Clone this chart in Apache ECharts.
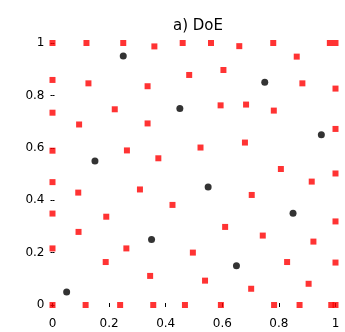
<!DOCTYPE html>
<html>
<head>
<meta charset="utf-8">
<script src="https://cdn.jsdelivr.net/npm/echarts@6/dist/echarts.min.js"></script>
<style>
  html, body { margin: 0; padding: 0; background: #fff; }
  #chart { width: 345px; height: 332px; }
</style>
</head>
<body>
<div id="chart"></div>
<script>
// Design-of-experiments sample points in the unit square
const titleText = 'a) DoE';
const tickValues = [0, 0.2, 0.4, 0.6, 0.8, 1];
const tickLabels = ['0', '0.2', '0.4', '0.6', '0.8', '1'];

// infill / boundary samples (red)
const redX = [
  0.00, 0.12, 0.25, 0.36, 0.46, 0.56, 0.66, 0.78, 0.98, 1.00,
  0.863, 0.00, 0.127, 0.336, 0.483, 0.604, 0.883, 1.00,
  0.00, 0.220, 0.594, 0.684, 0.782, 0.094, 0.336, 1.00,
  0.00, 0.263, 0.374, 0.523, 0.680, 0.807, 0.916, 1.00,
  0.00, 0.091, 0.309, 0.704, 0.424, 0.00, 0.190, 0.610, 1.00,
  0.092, 0.743, 0.922, 0.00, 0.261, 0.496, 0.188, 0.829, 1.00,
  0.345, 0.539, 0.905, 0.702,
  0.00, 0.117, 0.239, 0.356, 0.468, 0.595, 0.783, 0.873, 0.985, 1.00
];
const redY = [
  1.00, 1.00, 1.00, 0.987, 1.00, 1.00, 0.988, 1.00, 1.00, 1.00,
  0.948, 0.859, 0.846, 0.835, 0.878, 0.897, 0.846, 0.826,
  0.734, 0.747, 0.762, 0.765, 0.742, 0.689, 0.693, 0.672,
  0.589, 0.590, 0.560, 0.601, 0.620, 0.519, 0.471, 0.502,
  0.469, 0.429, 0.441, 0.420, 0.382, 0.349, 0.337, 0.298, 0.319,
  0.279, 0.265, 0.242, 0.216, 0.216, 0.200, 0.164, 0.164, 0.162,
  0.111, 0.093, 0.081, 0.062,
  0.00, 0.00, 0.00, 0.00, 0.00, 0.00, 0.00, 0.00, 0.00, 0.00
];

// initial Latin hypercube samples (black)
const blackX = [0.05, 0.15, 0.25, 0.35, 0.45, 0.55, 0.65, 0.75, 0.85, 0.95];
const blackY = [0.05, 0.55, 0.95, 0.25, 0.75, 0.45, 0.15, 0.85, 0.35, 0.65];

const zip = (xs, ys) => xs.map((x, i) => [x, ys[i]]);
const fmt = v => tickLabels[tickValues.findIndex(t => Math.abs(t - v) < 1e-9)];

const chart = echarts.init(document.getElementById('chart'), null, { renderer: 'canvas' });

const fontFamily = 'DejaVu Sans, Liberation Sans, sans-serif';
const labelFont = { color: '#000', fontSize: 12, fontFamily: fontFamily };
const tickStyle = { show: true, inside: true, length: 2, lineStyle: { color: '#000', width: 1 } };

const baseAxis = {
  type: 'value', min: 0, max: 1, interval: 0.2,
  axisLine: { show: false },
  splitLine: { show: false },
  axisTick: tickStyle
};

chart.setOption({
  animation: false,
  backgroundColor: '#fff',
  title: {
    text: titleText, left: 193, top: 14, textAlign: 'center',
    textStyle: { color: '#000', fontSize: 15, fontWeight: 'normal', fontFamily: fontFamily }
  },
  grid: { left: 52.5, right: 9.5, top: 43, bottom: 27, containLabel: false },
  xAxis: [
    Object.assign({}, baseAxis, {
      position: 'bottom',
      axisLabel: Object.assign({ margin: 13, formatter: fmt }, labelFont)
    }),
    Object.assign({}, baseAxis, { position: 'top', axisLabel: { show: false } })
  ],
  yAxis: [
    Object.assign({}, baseAxis, {
      position: 'left',
      axisLabel: Object.assign({ margin: 8, formatter: fmt }, labelFont)
    }),
    Object.assign({}, baseAxis, { position: 'right', axisLabel: { show: false } })
  ],
  series: [
    {
      type: 'scatter', xAxisIndex: 0, yAxisIndex: 0,
      data: zip(redX, redY), symbol: 'rect', symbolSize: 6, clip: false,
      itemStyle: { color: '#ff0000' }
    },
    {
      type: 'scatter', xAxisIndex: 0, yAxisIndex: 0,
      data: zip(blackX, blackY), symbol: 'circle', symbolSize: 7, clip: false,
      itemStyle: { color: '#000000' }
    }
  ]
});
</script>
</body>
</html>
